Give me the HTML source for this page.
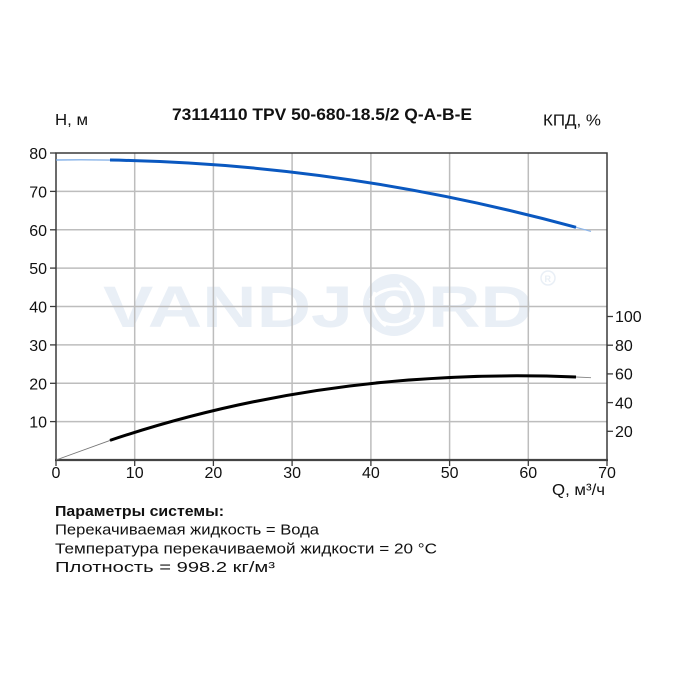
<!DOCTYPE html>
<html>
<head>
<meta charset="utf-8">
<style>
html,body{margin:0;padding:0;background:#fff;}
svg{display:block;}
text{font-family:"Liberation Sans", Arial, sans-serif;}
</style>
</head>
<body>
<svg width="681" height="681" viewBox="0 0 681 681" xmlns="http://www.w3.org/2000/svg">
<rect width="681" height="681" fill="#fff"/>

<!-- watermark -->
<g fill="#e9eff6">
  <text x="103" y="327" font-size="58" font-weight="bold" textLength="250" lengthAdjust="spacingAndGlyphs">VANDJ</text>
  <text x="428" y="327" font-size="58" font-weight="bold" textLength="105" lengthAdjust="spacingAndGlyphs">RD</text>
  <circle cx="394" cy="305" r="31"/>
  <circle cx="548" cy="278" r="7" fill="none" stroke="#e9eff6" stroke-width="1.5"/>
  <text x="544.5" y="282" font-size="9" font-weight="bold">R</text>
</g>
<g fill="none" stroke="#fff" stroke-width="3">
  <path d="M370 300 Q385 285 405 290"/>
  <path d="M400 283 Q418 300 410 318"/>
  <path d="M415 315 Q400 330 382 322"/>
  <path d="M386 326 Q368 312 375 292"/>
</g>
<circle cx="394" cy="305" r="9" fill="#fff"/>

<!-- grid -->
<g stroke="#bdbdbd" stroke-width="1.5">
  <line x1="134.7" y1="153" x2="134.7" y2="460"/>
  <line x1="213.4" y1="153" x2="213.4" y2="460"/>
  <line x1="292.1" y1="153" x2="292.1" y2="460"/>
  <line x1="370.9" y1="153" x2="370.9" y2="460"/>
  <line x1="449.6" y1="153" x2="449.6" y2="460"/>
  <line x1="528.3" y1="153" x2="528.3" y2="460"/>
  <line x1="56" y1="421.6" x2="607" y2="421.6"/>
  <line x1="56" y1="383.3" x2="607" y2="383.3"/>
  <line x1="56" y1="344.9" x2="607" y2="344.9"/>
  <line x1="56" y1="306.5" x2="607" y2="306.5"/>
  <line x1="56" y1="268.1" x2="607" y2="268.1"/>
  <line x1="56" y1="229.8" x2="607" y2="229.8"/>
  <line x1="56" y1="191.4" x2="607" y2="191.4"/>
</g>

<!-- frame -->
<rect x="56" y="153" width="551" height="307" fill="none" stroke="#3a3a3a" stroke-width="1.5"/>
<line x1="55" y1="460" x2="608" y2="460" stroke="#444" stroke-width="2.2"/>

<!-- ticks -->
<g stroke="#3a3a3a" stroke-width="1.3">
  <line x1="50" y1="153" x2="56" y2="153"/>
  <line x1="50" y1="191.4" x2="56" y2="191.4"/>
  <line x1="50" y1="229.8" x2="56" y2="229.8"/>
  <line x1="50" y1="268.1" x2="56" y2="268.1"/>
  <line x1="50" y1="306.5" x2="56" y2="306.5"/>
  <line x1="50" y1="344.9" x2="56" y2="344.9"/>
  <line x1="50" y1="383.3" x2="56" y2="383.3"/>
  <line x1="50" y1="421.6" x2="56" y2="421.6"/>
  <line x1="56" y1="460" x2="56" y2="466"/>
  <line x1="134.7" y1="460" x2="134.7" y2="466"/>
  <line x1="213.4" y1="460" x2="213.4" y2="466"/>
  <line x1="292.1" y1="460" x2="292.1" y2="466"/>
  <line x1="370.9" y1="460" x2="370.9" y2="466"/>
  <line x1="449.6" y1="460" x2="449.6" y2="466"/>
  <line x1="528.3" y1="460" x2="528.3" y2="466"/>
  <line x1="607" y1="460" x2="607" y2="466"/>
  <line x1="607" y1="431.3" x2="613" y2="431.3"/>
  <line x1="607" y1="402.6" x2="613" y2="402.6"/>
  <line x1="607" y1="373.9" x2="613" y2="373.9"/>
  <line x1="607" y1="345.2" x2="613" y2="345.2"/>
  <line x1="607" y1="316.5" x2="613" y2="316.5"/>
</g>

<!-- tick labels -->
<g font-size="16" fill="#111" text-anchor="end">
  <text x="47" y="159">80</text>
  <text x="47" y="197.4">70</text>
  <text x="47" y="235.8">60</text>
  <text x="47" y="274.1">50</text>
  <text x="47" y="312.5">40</text>
  <text x="47" y="350.9">30</text>
  <text x="47" y="389.3">20</text>
  <text x="47" y="427.6">10</text>
</g>
<g font-size="16" fill="#111" text-anchor="middle">
  <text x="56" y="478">0</text>
  <text x="134.7" y="478">10</text>
  <text x="213.4" y="478">20</text>
  <text x="292.1" y="478">30</text>
  <text x="370.9" y="478">40</text>
  <text x="449.6" y="478">50</text>
  <text x="528.3" y="478">60</text>
  <text x="607" y="478">70</text>
</g>
<g font-size="16" fill="#111">
  <text x="615" y="437">20</text>
  <text x="615" y="408.3">40</text>
  <text x="615" y="379.6">60</text>
  <text x="615" y="350.9">80</text>
  <text x="615" y="322.2">100</text>
</g>

<!-- axis titles -->
<text x="55" y="125" font-size="16" fill="#111" textLength="33" lengthAdjust="spacingAndGlyphs">Н, м</text>
<text x="543" y="125.5" font-size="16" fill="#111" textLength="58" lengthAdjust="spacingAndGlyphs">КПД, %</text>
<text x="552" y="495" font-size="16" fill="#111" textLength="53" lengthAdjust="spacingAndGlyphs">Q, м³/ч</text>
<text x="172" y="120" font-size="17" font-weight="bold" fill="#111" textLength="300" lengthAdjust="spacingAndGlyphs">73114110 TPV 50-680-18.5/2 Q-A-B-E</text>

<!-- head curve -->
<path d="M56,160 Q83,159.63 110,160.06" fill="none" stroke="#6fa3e3" stroke-width="1.2"/>
<path d="M576,227.3 Q583.5,229.34 591,231.45" fill="none" stroke="#8db6ea" stroke-width="1.2"/>
<path d="M110,160.06 Q343,163.8 576,227.3" fill="none" stroke="#0a58c0" stroke-width="3"/>

<!-- efficiency curve -->
<polyline points="56,460 110,440.4" fill="none" stroke="#777" stroke-width="0.9"/>
<path d="M576,377 C581,377.2 586,377.42 591,377.67" fill="none" stroke="#888" stroke-width="0.9"/>
<path d="M110,440.39 C265.33,388.08 420.67,370.74 576,377" fill="none" stroke="#000" stroke-width="3"/>

<!-- parameters -->
<g fill="#111" font-size="14.5">
  <text x="55" y="516" font-weight="bold" textLength="169" lengthAdjust="spacingAndGlyphs">Параметры системы:</text>
  <text x="55" y="534.7" textLength="264" lengthAdjust="spacingAndGlyphs">Перекачиваемая жидкость = Вода</text>
  <text x="55" y="553.3" textLength="382" lengthAdjust="spacingAndGlyphs">Температура перекачиваемой жидкости = 20 °C</text>
  <text x="55" y="572" textLength="220" lengthAdjust="spacingAndGlyphs">Плотность = 998.2 кг/м³</text>
</g>
</svg>
</body>
</html>
